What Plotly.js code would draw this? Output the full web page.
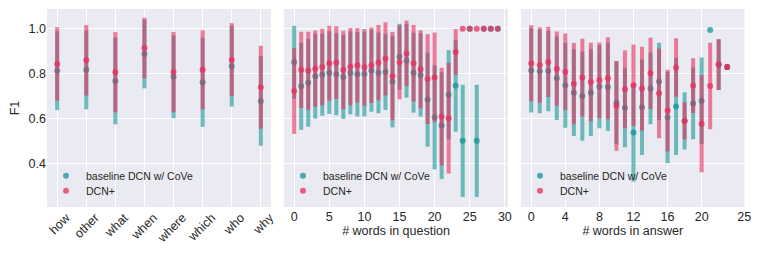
<!DOCTYPE html>
<html>
<head>
<meta charset="utf-8">
<script src="https://cdn.plot.ly/plotly-3.0.1.min.js"></script>
<style>
html,body{margin:0;padding:0;background:#fff;}
#chart{width:761px;height:254px;}
</style>
</head>
<body>
<div id="chart"></div>
<script>
// ---- data ----
const qTypes = ['how','other','what','when','where','which','who','why'];
const baseTypeMean = [0.813,0.817,0.767,0.887,0.786,0.761,0.833,0.678];
const baseTypeStd  = [0.176,0.176,0.193,0.153,0.185,0.199,0.180,0.200];
const dcnTypeMean  = [0.843,0.859,0.806,0.914,0.807,0.817,0.862,0.739];
const dcnTypeStd   = [0.164,0.157,0.179,0.135,0.179,0.176,0.163,0.185];

const qLen = [0,1,2,3,4,5,6,7,8,9,10,11,12,13,14,15,16,17,18,19,20,21,22,23,24,25,26,27,28,29];
const baseQMean = [0.850,0.743,0.759,0.788,0.795,0.804,0.797,0.785,0.803,0.797,0.798,0.813,0.803,0.807,0.764,0.875,0.857,0.804,0.794,0.684,0.605,0.568,0.706,0.746,0.500,1.000,0.500,1.000,1.000,1.000];
const baseQStd  = [0.163,0.194,0.196,0.189,0.183,0.184,0.183,0.187,0.185,0.188,0.189,0.183,0.180,0.169,0.204,0.147,0.164,0.178,0.186,0.210,0.232,0.238,0.199,0.205,0.250,0,0.250,0,0,0];
const dcnQMean  = [0.722,0.817,0.813,0.822,0.829,0.846,0.849,0.816,0.831,0.837,0.828,0.837,0.849,0.866,0.789,0.850,0.890,0.846,0.819,0.776,0.783,0.608,0.601,0.896,1.000,1.000,1.000,1.000,1.000,1.000];
const dcnQStd   = [0.191,0.170,0.174,0.170,0.171,0.167,0.162,0.175,0.172,0.166,0.171,0.168,0.168,0.163,0.197,0.165,0.146,0.171,0.174,0.200,0.200,0.218,0.247,0.103,0,0,0,0,0,0];

const aLen = [0,1,2,3,4,5,6,7,8,9,10,11,12,13,14,15,16,17,18,19,20,21,22,23];
const baseAMean = [0.814,0.810,0.811,0.779,0.748,0.715,0.700,0.715,0.742,0.740,0.670,0.648,0.537,0.650,0.734,0.765,0.604,0.653,0.589,0.667,0.679,0.994,0.840,0.829];
const baseAStd  = [0.188,0.187,0.179,0.186,0.190,0.193,0.199,0.193,0.186,0.196,0.185,0.176,0.219,0.213,0.160,0.173,0.204,0.216,0.128,0.160,0.193,0,0.113,0.013];
const dcnAMean  = [0.846,0.838,0.852,0.822,0.808,0.755,0.782,0.762,0.770,0.779,0.656,0.730,0.748,0.733,0.801,0.712,0.635,0.827,0.589,0.746,0.576,0.745,0.840,0.829];
const dcnAStd   = [0.169,0.168,0.157,0.166,0.171,0.181,0.173,0.175,0.169,0.183,0.200,0.174,0.182,0.187,0.159,0.200,0.182,0.130,0.083,0.122,0.216,0.193,0.113,0.013];

const seriesNames = ['baseline DCN w/ CoVe', 'DCN+'];
const xTitles = ['', '# words in question', '# words in answer'];

// ---- styles ----
const FONT = 'Liberation Sans, Arial, sans-serif';
const TXT = '#262626';
const BASE_BAR = 'rgba(20,150,148,0.6)';
const BASE_PT  = 'rgba(20,150,148,0.75)';
const DCN_BAR  = 'rgba(234,45,92,0.6)';
const DCN_PT   = 'rgba(234,45,92,0.75)';

function mk(x, y, s, name, bar, pt, xa, ya, leg) {
  return {
    type: 'scatter', mode: 'markers', x: x, y: y, name: name,
    xaxis: xa, yaxis: ya, legend: leg, showlegend: true,
    marker: {color: pt, size: 6, line: {width: 0}},
    error_y: {type: 'data', array: s, symmetric: true, color: bar, thickness: 4, width: 0}
  };
}

const traces = [
  mk(qTypes, baseTypeMean, baseTypeStd, seriesNames[0], BASE_BAR, BASE_PT, 'x', 'y', 'legend'),
  mk(qTypes, dcnTypeMean, dcnTypeStd, seriesNames[1], DCN_BAR, DCN_PT, 'x', 'y', 'legend2'),
  mk(qLen, baseQMean, baseQStd, seriesNames[0], BASE_BAR, BASE_PT, 'x2', 'y2', 'legend3'),
  mk(qLen, dcnQMean, dcnQStd, seriesNames[1], DCN_BAR, DCN_PT, 'x2', 'y2', 'legend4'),
  mk(aLen, baseAMean, baseAStd, seriesNames[0], BASE_BAR, BASE_PT, 'x3', 'y3', 'legend5'),
  mk(aLen, dcnAMean, dcnAStd, seriesNames[1], DCN_BAR, DCN_PT, 'x3', 'y3', 'legend6')
];

const W = 761, H = 254, MT = 9, MB = 47;
const PH = H - MT - MB;
const doms = [[47/W, 271/W], [284/W, 508/W], [521/W, 744.5/W]];
const yRange = [0.205, 1.088];

function xax(i, extra) {
  return Object.assign({
    domain: doms[i], anchor: i === 0 ? 'y' : 'y' + (i + 1),
    showgrid: true, gridcolor: '#ffffff', gridwidth: 1,
    zeroline: false, showline: false, ticks: '',
    tickfont: {family: FONT, size: 12.5, color: TXT},
    automargin: false,
    title: {text: xTitles[i], font: {family: FONT, size: 12.5, color: TXT}, standoff: 3}
  }, extra);
}
function yax(i) {
  return {
    domain: [0, 1], anchor: i === 0 ? 'x' : 'x' + (i + 1),
    range: yRange, tick0: 0, dtick: 0.2, tickformat: '.1f',
    showgrid: true, gridcolor: '#ffffff', gridwidth: 1,
    zeroline: false, showline: false, ticks: '',
    showticklabels: i === 0,
    tickfont: {family: FONT, size: 12.5, color: TXT},
    automargin: false,
    title: i === 0 ? {text: 'F1', font: {family: FONT, size: 12.5, color: TXT}, standoff: 6} : {text: ''}
  };
}
const rowY = [175.7, 190.7];
function leg(panel, row) {
  return {
    x: (doms[panel][0] * W - 1) / W, xanchor: 'left',
    y: (H - MB - rowY[row]) / PH, yanchor: 'middle',
    bgcolor: 'rgba(0,0,0,0)', borderwidth: 0,
    font: {family: FONT, size: 10.5, color: TXT},
    itemwidth: 30
  };
}

const layout = {
  width: W, height: H,
  margin: {l: 0, r: 0, t: MT, b: MB, pad: 0},
  paper_bgcolor: '#ffffff', plot_bgcolor: '#eaeaf2',
  font: {family: FONT, color: TXT},
  xaxis: xax(0, {type: 'category', range: [-0.35, 7.35], tickangle: -45, ticklabelshift: 9, ticklabelstandoff: 0}),
  xaxis2: xax(1, {range: [-1.45, 30.45], tickvals: [0,5,10,15,20,25,30]}),
  xaxis3: xax(2, {range: [-1.2, 25.03], tickvals: [0,4,8,12,16,20,25]}),
  yaxis: yax(0), yaxis2: yax(1), yaxis3: yax(2),
  legend: leg(0, 0), legend2: leg(0, 1),
  legend3: leg(1, 0), legend4: leg(1, 1),
  legend5: leg(2, 0), legend6: leg(2, 1)
};

Plotly.newPlot('chart', traces, layout, {staticPlot: true, displayModeBar: false});
</script>
</body>
</html>
